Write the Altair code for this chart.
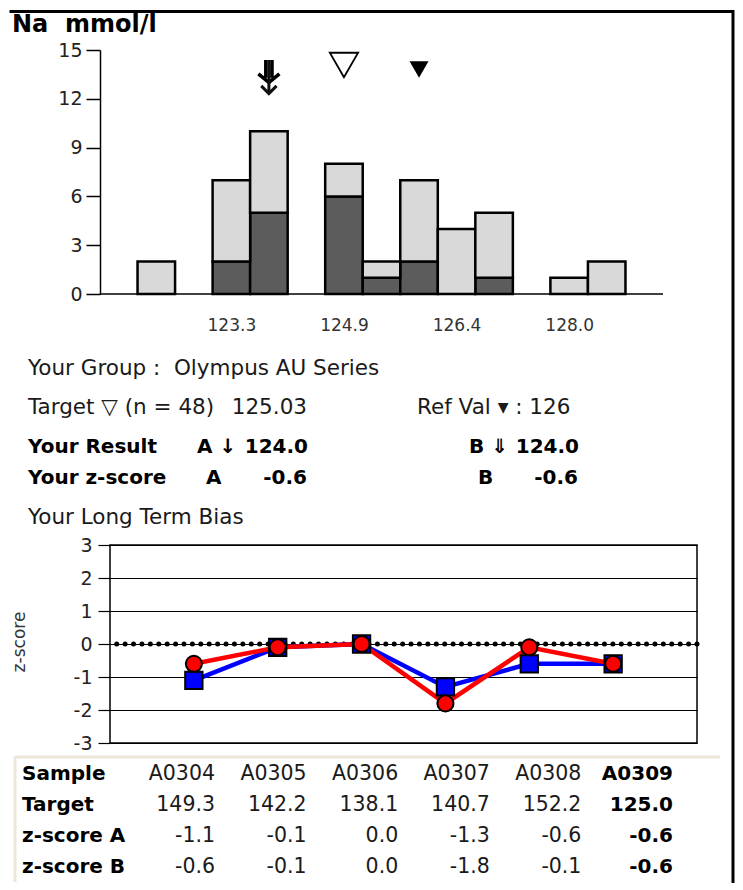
import altair as alt
import pandas as pd

# ---------------- data ----------------
bin_lo = [121.50, 122.02, 122.54, 123.06, 123.58, 124.10, 124.62, 125.14,
          125.66, 126.18, 126.70, 127.22, 127.74, 128.26, 128.78]
bin_width = 0.52
total_counts = [0, 2, 0, 7, 10, 0, 8, 2, 7, 4, 5, 0, 1, 2, 0]
group_counts = [0, 0, 0, 2, 5, 0, 6, 1, 2, 0, 1, 0, 0, 0, 0]
x_tick_values = [123.32, 124.88, 126.44, 128.00]
y_tick_values = [0, 3, 6, 9, 12, 15]

group_name = "Olympus AU Series"
n_results = 48
target_value = 125.03
ref_value = 126
result_a = 124.0
result_b = 124.0
z_a = -0.6
z_b = -0.6

samples = ["A0304", "A0305", "A0306", "A0307", "A0308", "A0309"]
targets = [149.3, 142.2, 138.1, 140.7, 152.2, 125.0]
zscore_a = [-1.1, -0.1, 0.0, -1.3, -0.6, -0.6]
zscore_b = [-0.6, -0.1, 0.0, -1.8, -0.1, -0.6]
z_ticks = [-3, -2, -1, 0, 1, 2, 3]
table_rows = ["Sample", "Target", "z-score A", "z-score B"]

FONT = "DejaVu Sans"
TXT = "#1a1a1a"
BODY = 21.5

# ---------------- helpers ----------------
def txt(s, x, y, size=BODY, weight="normal", align="left", color=TXT, angle=0):
    return alt.Chart(alt.Data(values=[{}])).mark_text(
        text=s, align=align, baseline="middle", fontSize=size,
        fontWeight=weight, font=FONT, color=color, angle=angle
    ).encode(x=alt.value(x), y=alt.value(y))

def hline(x1, x2, y, color="black", w=3):
    return alt.Chart(alt.Data(values=[{}])).mark_rule(color=color, strokeWidth=w).encode(
        x=alt.value(x1), x2=alt.value(x2), y=alt.value(y))

def vline(x, y1, y2, color="black", w=3):
    return alt.Chart(alt.Data(values=[{}])).mark_rule(color=color, strokeWidth=w).encode(
        x=alt.value(x), y=alt.value(y1), y2=alt.value(y2))

# ---------------- histogram ----------------
hist = pd.DataFrame({"lo": bin_lo, "total": total_counts, "group": group_counts})
hist["hi"] = hist["lo"] + bin_width
x_min = bin_lo[0]
x_max = bin_lo[-1] + bin_width

xs = alt.Scale(domain=[x_min, x_max], range=[-10, 553], nice=False, zero=False)
ys = alt.Scale(domain=[0, 15], nice=False)
xaxis = alt.Axis(values=x_tick_values, format=".1f", ticks=False, domain=False,
                 tickSize=0, labelPadding=23, labelFontSize=17, labelFont=FONT,
                 labelColor="#333", title=None, grid=False)
yaxis = alt.Axis(values=y_tick_values, tickSize=14, labelPadding=4, offset=10,
                 domainColor="black", domainWidth=1.5, tickColor="black", tickWidth=1.5,
                 labelFont=FONT, labelFontSize=19, labelColor="#222", title=None, grid=False)

dark = alt.Chart(hist).transform_filter("datum.group > 0").mark_rect(
    color="#5c5c5c", stroke="black", strokeWidth=2.5
).encode(
    x=alt.X("lo:Q", scale=xs, axis=xaxis), x2="hi:Q",
    y=alt.Y("group:Q", scale=ys, axis=yaxis), y2=alt.Y2Datum(0)
)
light = alt.Chart(hist).transform_filter("datum.total > datum.group").mark_rect(
    color="#d9d9d9", stroke="black", strokeWidth=2.5
).encode(
    x=alt.X("lo:Q", scale=xs, axis=xaxis), x2="hi:Q",
    y=alt.Y("total:Q", scale=ys, axis=yaxis), y2="group:Q"
)
baseline = alt.Chart(alt.Data(values=[{}])).mark_rule(color="black", strokeWidth=1.5).encode(
    x=alt.XDatum(x_min, type="quantitative", scale=xs, axis=xaxis),
    x2=alt.X2Datum(x_max),
    y=alt.YDatum(0, type="quantitative", scale=ys, axis=yaxis)
)

markers = pd.DataFrame({"kind": ["A", "B", "target", "ref"],
                        "value": [result_a, result_b, target_value, ref_value]})
center_expr = f"{x_min} + (floor((datum.value - {x_min}) / {bin_width}) + 0.5) * {bin_width}"
mk = alt.Chart(markers).transform_calculate(center=center_expr)

def mk_x():
    return alt.X("center:Q", scale=xs, axis=xaxis)

# symbol outlines (unit box) for the result arrows: B = double arrow, A = single arrow
ARROW_B = "M-0.18,-1L-0.18,0.05M0.18,-1L0.18,0.05M-0.62,-0.18L0,0.32L0.62,-0.18"
ARROW_A = "M0,-1L0,0.98M-0.45,0.52L0,0.98L0.45,0.52"

open_tri = mk.transform_filter("datum.kind == 'target'").mark_point(
    shape="triangle-down", size=800, filled=False, color="black", strokeWidth=1.8, opacity=1
).encode(x=mk_x(), y=alt.value(15))
ref_tri = mk.transform_filter("datum.kind == 'ref'").mark_point(
    shape="triangle-down", size=361, filled=True, color="black", opacity=1
).encode(x=mk_x(), y=alt.value(19.5))
arrow_b = mk.transform_filter("datum.kind == 'B'").mark_point(
    shape=ARROW_B, size=1156, filled=False, color="black", strokeWidth=3.6, opacity=1
).encode(x=mk_x(), y=alt.value(27))
arrow_a = mk.transform_filter("datum.kind == 'A'").mark_point(
    shape=ARROW_A, size=1156, filled=False, color="#111", strokeWidth=3, opacity=1
).encode(x=mk_x(), y=alt.value(27))

NB = "\u00a0"
texts = [
    txt("Na" + NB + " mmol/l", -98, -25.5, size=24, weight="bold", color="black"),
    txt("Your Group :" + NB + " " + group_name, -82, 319),
    txt(f"Target \u25bd (n = {n_results})", -82, 358),
    txt(f"{target_value:.2f}", 197, 358, align="right"),
    txt(f"Ref Val \u25be : {ref_value}", 307, 358),
    txt("Your Result", -82, 397, size=20, weight="bold", color="black"),
    txt("A \u2193", 87, 397, size=20, weight="bold", color="black"),
    txt(f"{result_a:.1f}", 198, 397, size=20, weight="bold", align="right", color="black"),
    txt("B \u21d3", 359, 397, size=20, weight="bold", color="black"),
    txt(f"{result_b:.1f}", 469, 397, size=20, weight="bold", align="right", color="black"),
    txt("Your z-score", -82, 428, size=20, weight="bold", color="black"),
    txt("A", 96, 428, size=20, weight="bold", color="black"),
    txt(f"{z_a:.1f}", 197, 428, size=20, weight="bold", align="right", color="black"),
    txt("B", 368, 428, size=20, weight="bold", color="black"),
    txt(f"{z_b:.1f}", 468, 428, size=20, weight="bold", align="right", color="black"),
    txt("Your Long Term Bias", -82, 468),
]

frame = [
    hline(-100.5, 623, -38.5, w=3),
    vline(623, -40, 833, w=3),
]

hist_part = alt.layer(dark, light, baseline, open_tri, ref_tri, arrow_b, arrow_a,
                      *texts, *frame).properties(width=553, height=244)

# ---------------- long term bias ----------------
lt = pd.DataFrame({
    "sample": samples * 2,
    "series": ["A"] * len(samples) + ["B"] * len(samples),
    "z": zscore_a + zscore_b,
})
xs2 = alt.Scale(type="point", domain=samples, padding=1)
ys2 = alt.Scale(domain=[-3, 3], nice=False)
yaxis2 = alt.Axis(values=z_ticks, grid=True, gridColor="black", gridWidth=1,
                  tickSize=12, tickColor="black", tickWidth=1.2, labelPadding=6, domain=False,
                  labelFontSize=19, labelFont=FONT, labelColor="#222", title=None,
                  labelExpr="datum.value < 0 ? '-' + abs(datum.value) : '' + datum.value")

def lx():
    return alt.X("sample:N", scale=xs2, axis=None, sort=samples)

def ly():
    return alt.Y("z:Q", scale=ys2, axis=yaxis2)

zero_dots = alt.Chart(alt.Data(values=[{}])).mark_rule(
    color="black", strokeWidth=5, strokeDash=[0.01, 8.4], strokeCap="round"
).encode(y=alt.YDatum(0, type="quantitative", scale=ys2, axis=yaxis2))

lines = alt.Chart(lt).mark_line(strokeWidth=4.5).encode(
    x=lx(), y=ly(),
    color=alt.Color("series:N", scale=alt.Scale(domain=["A", "B"], range=["#0000ff", "#ff0000"]),
                    legend=None)
)
squares = alt.Chart(lt).transform_filter("datum.series == 'A'").mark_point(
    shape="square", filled=True, size=300, fill="#0000ff", stroke="black", strokeWidth=2, opacity=1
).encode(x=lx(), y=ly())
circles = alt.Chart(lt).transform_filter("datum.series == 'B'").mark_point(
    shape="circle", filled=True, size=260, fill="#ff0000", stroke="black", strokeWidth=2, opacity=1
).encode(x=lx(), y=ly())

line_part = alt.layer(
    zero_dots, lines, squares, circles,
    txt("z-score", -90, 97, size=17, align="center", angle=270, color="#333"),
    hline(-95, 610, 212, color="#ece7d8", w=3),
    vline(-95, 212, 337, color="#ece7d8", w=3),
)

# ---------------- table ----------------
cells = []
for i, s in enumerate(samples):
    cells.append({"row": "Sample", "sample": s, "text": s})
    cells.append({"row": "Target", "sample": s, "text": f"{targets[i]:.1f}"})
    cells.append({"row": "z-score A", "sample": s, "text": f"{zscore_a[i]:.1f}"})
    cells.append({"row": "z-score B", "sample": s, "text": f"{zscore_b[i]:.1f}"})
cells = pd.DataFrame(cells)

tx = alt.Scale(type="point", domain=samples, range=[105, 563], padding=0)
ty = alt.Scale(type="point", domain=table_rows, range=[229, 322], padding=0)

last = samples[-1]
cell_reg = alt.Chart(cells).transform_filter(f"datum.sample != '{last}'").mark_text(
    align="right", baseline="middle", fontSize=20.5, font=FONT, color=TXT
).encode(x=alt.X("sample:N", scale=tx, axis=None, sort=samples),
         y=alt.Y("row:N", scale=ty, axis=None, sort=table_rows), text="text:N")
cell_bold = alt.Chart(cells).transform_filter(f"datum.sample == '{last}'").mark_text(
    align="right", baseline="middle", fontSize=20, font=FONT, fontWeight="bold", color="black"
).encode(x=alt.X("sample:N", scale=tx, axis=None, sort=samples),
         y=alt.Y("row:N", scale=ty, axis=None, sort=table_rows), text="text:N")
row_labels = alt.Chart(pd.DataFrame({"row": table_rows})).mark_text(
    align="left", baseline="middle", fontSize=20, font=FONT, fontWeight="bold", color="black"
).encode(x=alt.value(-88), y=alt.Y("row:N", scale=ty, axis=None, sort=table_rows), text="row:N")

table_part = alt.layer(cell_reg, cell_bold, row_labels)

bottom = alt.layer(line_part, table_part).resolve_scale(
    x="independent", y="independent"
).properties(width=587, height=198,
             view=alt.ViewBackground(stroke="black", strokeWidth=1.5))

chart = alt.vconcat(hist_part, bottom, spacing=251, bounds="flush", center=False).properties(
    padding=0
).configure_view(strokeWidth=0)

chart.save("out.html", embed_options={"renderer": "svg", "actions": False})
